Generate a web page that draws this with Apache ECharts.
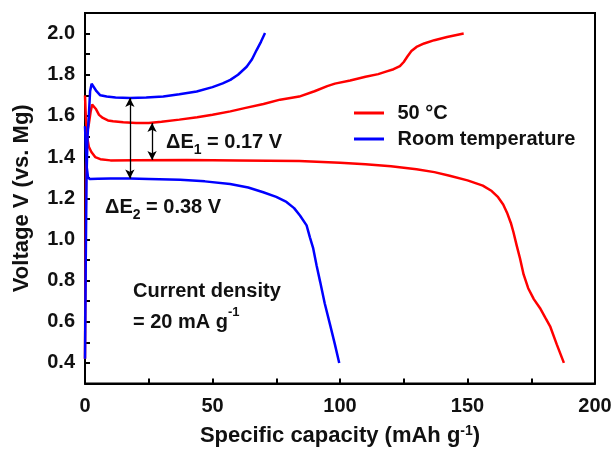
<!DOCTYPE html>
<html><head><meta charset="utf-8">
<script src="https://cdn.jsdelivr.net/npm/echarts@6/dist/echarts.min.js"></script>
<style>html,body{margin:0;padding:0;background:#fff}#c{width:616px;height:452px}</style>
</head><body><div id="c"></div>
<script>
// --- data (capacity mAh/g, voltage V) ---
const red_charge = [[0,0.42],[0.2,0.9],[0.4,1.35],[0.8,1.52],[1.5,1.56],[2.2,1.62],[2.8,1.655],[3.4,1.66],[4.2,1.635],[5.5,1.605],[7,1.59],[9,1.578],[11,1.574],[15,1.569],[20,1.566],[25,1.566],[30,1.572],[37,1.582],[44,1.594],[50,1.606],[57,1.622],[63,1.639],[70,1.658],[76.5,1.679],[84,1.694],[90,1.72],[95,1.745],[98,1.757],[104,1.772],[110,1.79],[115,1.803],[118,1.815],[121,1.827],[123.5,1.842],[125,1.862],[126.5,1.89],[128,1.915],[130,1.935],[133,1.952],[137,1.968],[142,1.983],[148.5,2.0]];
const red_discharge = [[0,1.70],[0.3,1.6],[0.8,1.5],[1.5,1.45],[2.5,1.425],[4,1.40],[6,1.39],[10,1.384],[20,1.385],[40,1.386],[60,1.384],[84,1.381],[100,1.373],[110,1.365],[120,1.355],[130,1.341],[137,1.327],[143,1.309],[150,1.287],[156,1.261],[159.5,1.235],[162,1.205],[164,1.17],[165.5,1.13],[167,1.08],[168,1.036],[169.3,0.97],[170.6,0.907],[172,0.83],[173.8,0.763],[176,0.71],[178.4,0.667],[180.5,0.62],[182.4,0.578],[185,0.49],[187.8,0.40]];
const rt_charge = [[0,0.42],[0.3,0.9],[0.6,1.3],[1,1.5],[1.5,1.6],[2,1.72],[2.6,1.756],[3.2,1.75],[4.5,1.72],[6,1.70],[8.5,1.694],[12,1.69],[17.6,1.687],[24,1.69],[30.7,1.694],[37,1.705],[43.8,1.719],[50,1.74],[54,1.758],[57,1.775],[60,1.80],[63.4,1.839],[65.5,1.875],[67.3,1.92],[69,1.96],[70.6,2.003]];
const rt_discharge = [[0,1.55],[0.3,1.45],[0.7,1.35],[1.2,1.30],[2,1.293],[5,1.295],[10,1.296],[17.6,1.296],[25,1.294],[37.3,1.29],[47,1.282],[56.9,1.269],[64,1.252],[69.9,1.229],[75,1.207],[79,1.182],[82,1.152],[84.3,1.116],[86.9,1.068],[88.2,1.01],[89.5,0.956],[90.8,0.875],[92.2,0.795],[94,0.69],[96.1,0.586],[98,0.49],[99.7,0.40]];
const arrows = [[[17.6,1.687],[17.6,1.296]],[[26.3,1.566],[26.3,1.386]]];
const xTicks = [0,50,100,150,200];
const yTicks = [0.4,0.6,0.8,1.0,1.2,1.4,1.6,1.8,2.0];
const seriesNames = ['50 °C','Room temperature'];

const FF = 'Liberation Sans, Arial, sans-serif';
const TC = '#111';
const chart = echarts.init(document.getElementById('c'));
const lineS = (name, data, color) => ({type:'line', name, data, showSymbol:false, symbol:'none', lineStyle:{color, width:2.5}, itemStyle:{color}, z:3, animation:false});
const A = {fontFamily:FF, fontWeight:'bold', fontSize:20, fill:TC, lineHeight:24, verticalAlign:'bottom'};
const SUB = {fontFamily:FF, fontWeight:'bold', fontSize:14, fill:TC, lineHeight:24, verticalAlign:'bottom', padding:[0,0,-5,0]};
const SUP = {fontFamily:FF, fontWeight:'bold', fontSize:13, fill:TC, lineHeight:24, verticalAlign:'top', padding:[-2,0,0,0]};
chart.setOption({
  animation:false,
  grid:{left:85, right:21, top:13, bottom:67, show:true, borderColor:'#000', borderWidth:2},
  legend:{data:seriesNames.map(n=>({name:n, icon:'path://M0,0 L10,0 L10,1 L0,1 Z'})), orient:'vertical', left:349, top:98, itemWidth:47, itemHeight:3, itemGap:6,
    textStyle:{fontFamily:FF, fontWeight:'bold', fontSize:20, color:TC}},
  xAxis:{type:'value', min:0, max:200, interval:25,
    axisLine:{lineStyle:{color:'#000', width:2}}, axisTick:{inside:true, length:5, lineStyle:{color:'#000', width:2}},
    splitLine:{show:false},
    axisLabel:{fontFamily:FF, fontWeight:'bold', fontSize:20, color:TC, margin:13, formatter:v=> xTicks.includes(v)? String(v):''},
    name:'Specific capacity (mAh g{sup|-1})', nameLocation:'middle', nameGap:41,
    nameTextStyle:{fontFamily:FF, fontWeight:'bold', fontSize:22, color:TC, rich:{sup:{fontFamily:FF, fontWeight:'bold', fontSize:14, verticalAlign:'top', padding:[0,0,9,0], color:TC}}}},
  yAxis:{type:'value', min:0.3, max:2.1, interval:0.1,
    axisLine:{lineStyle:{color:'#000', width:2}}, axisTick:{inside:true, length:5, lineStyle:{color:'#000', width:2}},
    splitLine:{show:false},
    axisLabel:{fontFamily:FF, fontWeight:'bold', fontSize:20, color:TC, margin:10, formatter:v=>{const t=yTicks.find(k=>Math.abs(k-v)<1e-6); return t===undefined?'':t.toFixed(1);}},
    name:'Voltage V (vs. Mg)', nameLocation:'middle', nameGap:52, nameRotate:90,
    nameTextStyle:{fontFamily:FF, fontWeight:'bold', fontSize:22, color:TC}},
  series:[
    lineS(seriesNames[0], red_charge, '#ff0000'),
    lineS(seriesNames[0], red_discharge, '#ff0000'),
    lineS(seriesNames[1], rt_charge, '#0000ff'),
    lineS(seriesNames[1], rt_discharge, '#0000ff'),
    {type:'line', data:[], silent:true, markLine:{silent:true, symbol:['arrow','arrow'], symbolSize:[7,9], label:{show:false},
      lineStyle:{color:'#000', width:1.3, type:'solid'}, animation:false,
      data:arrows.map(a=>[{coord:a[0]},{coord:a[1]}])}}
  ],
  graphic:[
    {type:'text', x:166, y:140, style:{text:'{a|ΔE}{s|1}{a| = 0.17 V}', verticalAlign:'middle', rich:{a:A, s:SUB}}},
    {type:'text', x:105, y:205, style:{text:'{a|ΔE}{s|2}{a| = 0.38 V}', verticalAlign:'middle', rich:{a:A, s:SUB}}},
    {type:'text', x:133, y:291, style:{text:'Current density', verticalAlign:'middle', fontFamily:FF, fontWeight:'bold', fontSize:20, fill:TC}},
    {type:'text', x:133, y:320, style:{text:'{a|= 20 mA g}{s|-1}', verticalAlign:'middle', rich:{a:A, s:SUP}}}
  ]
});
</script></body></html>
